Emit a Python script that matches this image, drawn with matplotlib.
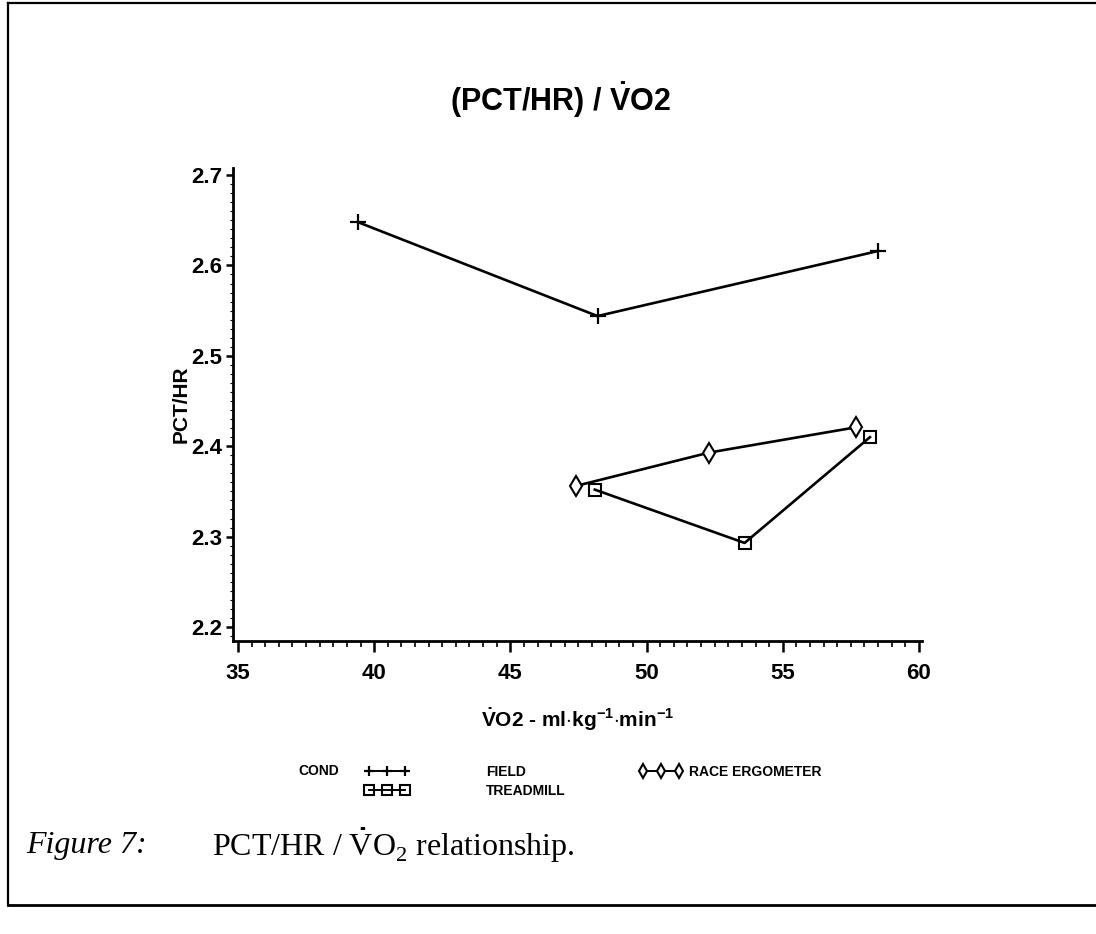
import matplotlib
matplotlib.use('Agg')
import matplotlib.pyplot as plt
from matplotlib.lines import Line2D
from matplotlib.ticker import MultipleLocator

# values
field_x = [39.4, 48.2, 58.5]
field_y = [2.648, 2.544, 2.616]

race_x = [47.4, 52.3, 57.7]
race_y = [2.356, 2.393, 2.421]

tread_x = [48.1, 53.6, 58.2]
tread_y = [2.352, 2.293, 2.410]

x_ticks = [35, 40, 45, 50, 55, 60]
y_ticks = [2.2, 2.3, 2.4, 2.5, 2.6, 2.7]

sans = ['Liberation Sans', 'DejaVu Sans']
serif = ['Liberation Serif', 'DejaVu Serif']

# mathtext is only used for the dotted V (and superscripts)
plt.rcParams['mathtext.fontset'] = 'custom'
plt.rcParams['mathtext.rm'] = 'Liberation Sans:bold'
plt.rcParams['mathtext.it'] = 'Liberation Sans:bold'
plt.rcParams['mathtext.bf'] = 'Liberation Sans:bold'
plt.rcParams['mathtext.sf'] = 'Liberation Serif'

fig = plt.figure(figsize=(10.96, 9.34), dpi=100)
ax = fig.add_axes([0.2126, 0.3137, 0.6286, 0.5064])

ax.plot(field_x, field_y, color='black', lw=1.9, marker='+', ms=11, mew=1.6, label='FIELD')
ax.plot(tread_x, tread_y, color='black', lw=1.9, marker='s', ms=9, mew=1.5,
        mfc='none', label='TREADMILL')
ax.plot(race_x, race_y, color='black', lw=1.9, marker='d', ms=10, mew=1.5,
        mfc='white', label='RACE ERGOMETER')

ax.set_xlim(34.82, 60.11)
ax.set_ylim(2.1845, 2.7078)
ax.set_xticks(x_ticks)
ax.set_yticks(y_ticks)
ax.set_xticklabels([str(v) for v in x_ticks], family=sans, fontweight='bold', fontsize=16)
ax.set_yticklabels(['%.1f' % v for v in y_ticks], family=sans, fontweight='bold', fontsize=16)
ax.xaxis.set_minor_locator(MultipleLocator(0.5))
ax.yaxis.set_minor_locator(MultipleLocator(0.01))
ax.tick_params(axis='x', which='major', length=8, width=1.8, pad=8)
ax.tick_params(axis='x', which='minor', length=4, width=1.2)
ax.tick_params(axis='y', which='major', length=5, width=1.8, pad=3)
ax.tick_params(axis='y', which='minor', length=2, width=0.8)

for side in ['top', 'right']:
    ax.spines[side].set_visible(False)
for side in ['left', 'bottom']:
    ax.spines[side].set_linewidth(2)

ax.set_ylabel('PCT/HR', family=sans, fontweight='bold', fontsize=15)
ax.yaxis.set_label_coords(-0.062, 0.5)
ax.set_xlabel(r'$\dot{\mathrm{V}}$O2 - ml$\cdot$kg$^{-1}$$\cdot$min$^{-1}$', family=sans,
              fontweight='bold', fontsize=15, labelpad=16)

fig.text(0.511, 0.893, r'(PCT/HR) / $\dot{\mathrm{V}}$O2', family=sans, fontweight='bold',
         fontsize=22, ha='center', va='center')

# SAS style legend below the plot
lfont = {'family': sans, 'weight': 'bold', 'size': 10}
fig.text(0.272, 0.175, 'COND', fontdict=lfont, ha='left', va='center')
h, l = ax.get_legend_handles_labels()
leg1 = fig.legend(h[:2], l[:2], loc='upper left', bbox_to_anchor=(0.328, 0.187),
                  frameon=False, numpoints=3, handlelength=3.2, handletextpad=5.5,
                  labelspacing=0.35, borderaxespad=0, prop=lfont)
leg2 = fig.legend(h[2:], l[2:], loc='upper left', bbox_to_anchor=(0.578, 0.187),
                  frameon=False, numpoints=3, handlelength=3.2, handletextpad=0.4,
                  borderaxespad=0, prop=lfont)
for leg in [leg1, leg2]:
    for hl in leg.legend_handles:
        hl.set_markersize(7)
        hl.set_linewidth(1.4)

# caption
fig.text(0.024, 0.095, 'Figure 7:', family=serif, style='italic', fontsize=23,
         ha='left', va='center')
fig.text(0.193, 0.095, r'PCT/HR / $\dot{\mathsf{V}}$O$_{\mathsf{2}}$ relationship.',
         family=serif, fontsize=23, ha='left', va='center')

# scanned page frame
fig.add_artist(Line2D([0.007, 1.0], [0.997, 0.997], color='black', lw=1.6,
                      transform=fig.transFigure))
fig.add_artist(Line2D([0.007, 0.007], [0.031, 0.997], color='black', lw=1.6,
                      transform=fig.transFigure))
fig.add_artist(Line2D([0.007, 1.0], [0.031, 0.031], color='black', lw=2.0,
                      transform=fig.transFigure))

fig.savefig('out.png', dpi=100)
